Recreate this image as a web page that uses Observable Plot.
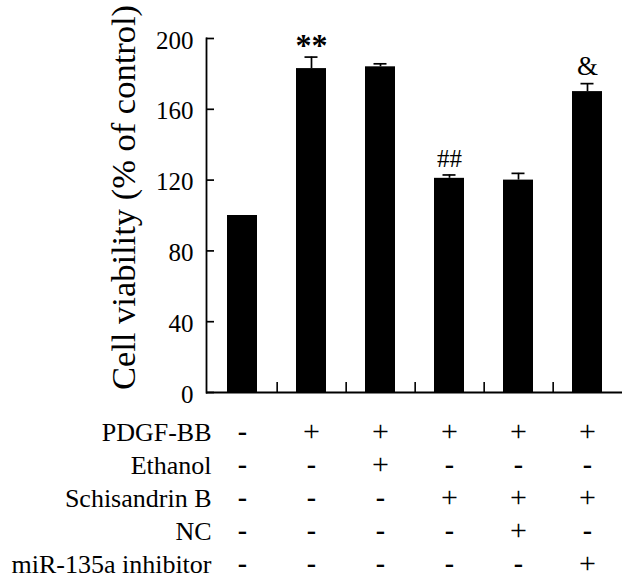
<!DOCTYPE html>
<html><head><meta charset="utf-8">
<script src="https://cdn.jsdelivr.net/npm/d3@7"></script>
<script src="https://cdn.jsdelivr.net/npm/@observablehq/plot@0.6"></script>
<style>
body{margin:0;background:#fff;}
#chart svg{display:block;}
#chart svg text{font-family:'Liberation Serif','Times New Roman',serif;}
#chart svg text.sans{font-family:'Liberation Sans',sans-serif;}
</style></head><body><div id="chart"></div>
<script>
// ---- data ----
const groups = ["Control", "PDGF-BB", "PDGF-BB+Ethanol", "PDGF-BB+Sch B", "PDGF-BB+Sch B+NC", "PDGF-BB+Sch B+inhibitor"];
const viability = [100, 183, 184, 121, 120, 170];
const errors = [0, 6.5, 1.7, 1.9, 3.8, 4.5];
const notes = ["", "**", "", "##", "", "&"];
const yTicks = [0, 40, 80, 120, 160, 200];
const yLabel = "Cell viability (% of control)";
const factors = ["PDGF-BB", "Ethanol", "Schisandrin B", "NC", "miR-135a inhibitor"];
const pdgf      = ["-", "+", "+", "+", "+", "+"];
const ethanol   = ["-", "-", "+", "-", "-", "-"];
const schB      = ["-", "-", "-", "+", "+", "+"];
const nc        = ["-", "-", "-", "-", "+", "-"];
const inhibitor = ["-", "-", "-", "-", "-", "+"];

// ---- build ----
const W = 623;
const serif = "'Liberation Serif', 'Times New Roman', serif";
const bars = groups.map((g, i) => ({group: g, value: viability[i], err: errors[i], note: notes[i]}));
const withErr = bars.filter(d => d.err > 0);
const xOpts = {domain: groups, paddingInner: 0.567, paddingOuter: 0.2835, axis: null};
const step = (W - 206 - 1) / groups.length;

const chart = Plot.plot({
  width: W, height: 400,
  marginLeft: 206, marginRight: 1, marginTop: 38, marginBottom: 8,
  style: {fontFamily: serif, background: "white", color: "black", overflow: "visible"},
  x: xOpts,
  y: {domain: [0, 200], axis: null, label: null},
  marks: [
    Plot.barY(bars, {x: "group", y: "value", fill: "black"}),
    Plot.ruleX(withErr, {x: "group", y1: "value", y2: d => d.value + d.err, stroke: "black", strokeWidth: 1.7}),
    Plot.tickY(withErr, {x: "group", y: d => d.value + d.err, stroke: "black", strokeWidth: 1.7, insetLeft: 8.5, insetRight: 8.5}),
    Plot.axisY(yTicks, {tickSize: 0, tickPadding: 13, fontSize: 25, fontFamily: serif, dy: 2, label: null, tickFormat: d => String(d)}),
    Plot.tickY(yTicks, {y: d => d, stroke: "black", strokeWidth: 1.7, insetRight: W - 206 - 1 - 8}),
    Plot.frame({anchor: "left", strokeWidth: 1.8}),
    Plot.ruleY([0], {strokeWidth: 1.8}),
    Plot.ruleX(groups.slice(0, groups.length - 1), {x: d => d, y1: 0, y2: 5.6, dx: step / 2, strokeWidth: 1.6}),
    Plot.text([yLabel], {text: d => d, frameAnchor: "left", textAnchor: "middle", rotate: -90, lineAnchor: "bottom", dx: -72, dy: -18, fontSize: 34.5, fontFamily: serif}),
    Plot.text(bars.filter(d => d.note === "**"), {x: "group", y: d => d.value + d.err, text: "note", lineAnchor: "bottom", fontSize: 32, fontWeight: "bold", fontFamily: serif, dy: -1}),
    Plot.text(bars.filter(d => d.note === "##"), {x: "group", y: d => d.value + d.err, text: "note", lineAnchor: "bottom", fontSize: 25, fontFamily: serif, dy: -8}),
    Plot.text(bars.filter(d => d.note === "&"), {x: "group", y: d => d.value + d.err, text: "note", lineAnchor: "bottom", fontSize: 27, fontFamily: serif, dy: -9})
  ]
});

const signRows = [pdgf, ethanol, schB, nc, inhibitor];
const tableData = [];
factors.forEach((f, r) => groups.forEach((g, c) => tableData.push({factor: f, group: g, sign: signRows[r][c]})));

const table = Plot.plot({
  width: W, height: 181,
  marginLeft: 206, marginRight: 1, marginTop: 30, marginBottom: 16,
  style: {fontFamily: serif, background: "white", color: "black", overflow: "visible"},
  x: xOpts,
  y: {type: "point", domain: factors, padding: 0, axis: null, label: null},
  marks: [
    Plot.axisY({tickSize: 0, tickPadding: -5, fontSize: 26, fontFamily: serif, label: null}),
    Plot.text(tableData.filter(d => d.sign === "+"), {x: "group", y: "factor", text: "sign", fontSize: 30, fontFamily: serif, dy: -1}),
    Plot.text(tableData.filter(d => d.sign === "-"), {x: "group", y: "factor", text: "sign", fontSize: 28, fontFamily: "'Liberation Sans', sans-serif", fontWeight: "bold", className: "sans", dy: -1})
  ]
});

document.getElementById("chart").append(chart, table);
</script>
</body></html>
